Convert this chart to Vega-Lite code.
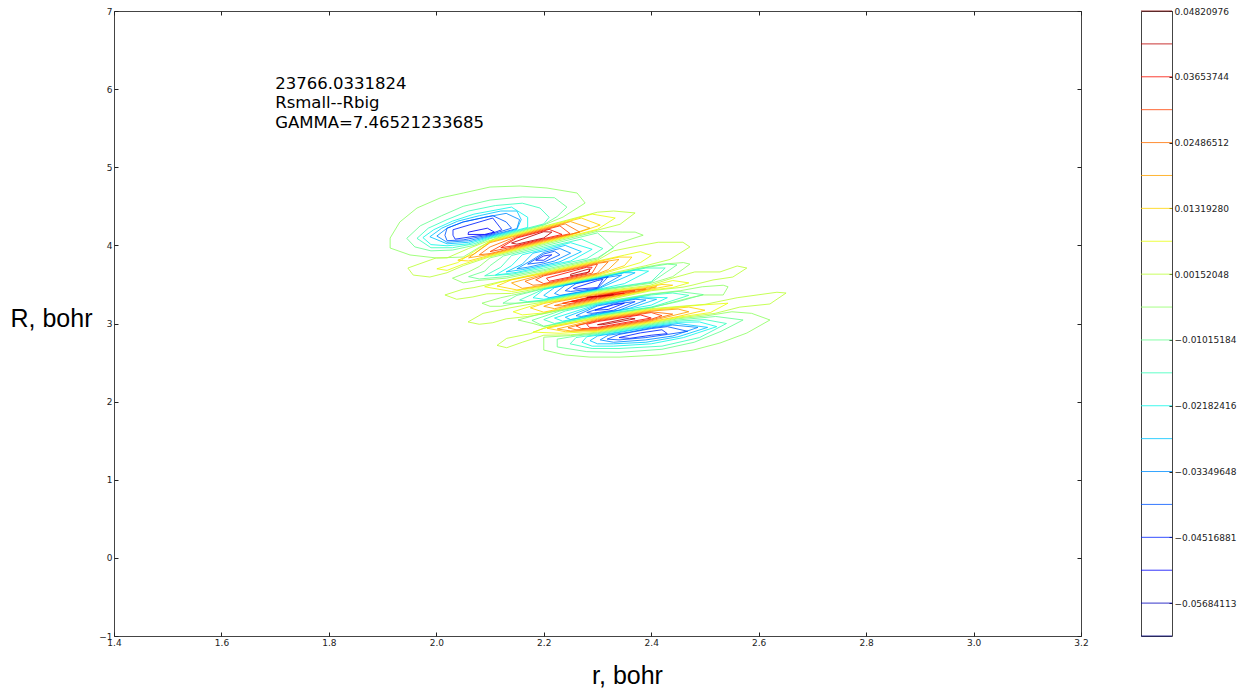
{"$schema":"https://vega.github.io/schema/vega-lite/v6.json","background":"white","padding":{"left":9,"top":6,"right":0,"bottom":0},"spacing":51,"config":{"view":{"stroke":"#444"},"axis":{"grid":false,"labelFont":"DejaVu Sans","labelFontSize":9,"labelColor":"#222","tickColor":"#222","domain":false,"labelFlush":false},"concat":{"spacing":51}},
"datasets":{"contours":[
{"c":"a10","l":10,"r":1.914,"R":4.094},{"c":"a10","l":10,"r":1.932,"R":4.299},{"c":"a10","l":10,"r":1.964,"R":4.478},{"c":"a10","l":10,"r":2.007,"R":4.606},{"c":"a10","l":10,"r":2.05,"R":4.67},{"c":"a10","l":10,"r":2.1,"R":4.747},{"c":"a10","l":10,"r":2.156,"R":4.76},{"c":"a10","l":10,"r":2.206,"R":4.734},{"c":"a10","l":10,"r":2.262,"R":4.67},{"c":"a10","l":10,"r":2.277,"R":4.542},{"c":"a10","l":10,"r":2.236,"R":4.363},{"c":"a10","l":10,"r":2.2,"R":4.26},{"c":"a10","l":10,"r":2.15,"R":4.165},{"c":"a10","l":10,"r":2.11,"R":4.09},{"c":"a10","l":10,"r":2.081,"R":3.98},{"c":"a10","l":10,"r":2.05,"R":3.851},{"c":"a10","l":10,"r":2.001,"R":3.838},{"c":"a10","l":10,"r":1.951,"R":3.877},{"c":"a10","l":10,"r":1.914,"R":3.966},{"c":"a10","l":10,"r":1.914,"R":4.094},
{"c":"a9","l":9,"r":1.945,"R":4.09},{"c":"a9","l":9,"r":1.97,"R":4.25},{"c":"a9","l":9,"r":2.01,"R":4.38},{"c":"a9","l":9,"r":2.05,"R":4.5},{"c":"a9","l":9,"r":2.1,"R":4.58},{"c":"a9","l":9,"r":2.16,"R":4.62},{"c":"a9","l":9,"r":2.22,"R":4.61},{"c":"a9","l":9,"r":2.243,"R":4.49},{"c":"a9","l":9,"r":2.225,"R":4.37},{"c":"a9","l":9,"r":2.2,"R":4.265},{"c":"a9","l":9,"r":2.15,"R":4.175},{"c":"a9","l":9,"r":2.1,"R":4.085},{"c":"a9","l":9,"r":2.07,"R":4.0},{"c":"a9","l":9,"r":2.03,"R":3.94},{"c":"a9","l":9,"r":1.99,"R":3.93},{"c":"a9","l":9,"r":1.96,"R":3.98},{"c":"a9","l":9,"r":1.945,"R":4.09},
{"c":"a8","l":8,"r":1.964,"R":4.09},{"c":"a8","l":8,"r":1.985,"R":4.22},{"c":"a8","l":8,"r":2.02,"R":4.33},{"c":"a8","l":8,"r":2.06,"R":4.44},{"c":"a8","l":8,"r":2.11,"R":4.51},{"c":"a8","l":8,"r":2.16,"R":4.54},{"c":"a8","l":8,"r":2.193,"R":4.478},{"c":"a8","l":8,"r":2.21,"R":4.36},{"c":"a8","l":8,"r":2.2,"R":4.275},{"c":"a8","l":8,"r":2.15,"R":4.185},{"c":"a8","l":8,"r":2.1,"R":4.095},{"c":"a8","l":8,"r":2.07,"R":4.02},{"c":"a8","l":8,"r":2.03,"R":3.97},{"c":"a8","l":8,"r":1.99,"R":3.97},{"c":"a8","l":8,"r":1.964,"R":4.09},
{"c":"a7","l":7,"r":1.975,"R":4.1},{"c":"a7","l":7,"r":1.995,"R":4.2},{"c":"a7","l":7,"r":2.03,"R":4.31},{"c":"a7","l":7,"r":2.07,"R":4.4},{"c":"a7","l":7,"r":2.14,"R":4.49},{"c":"a7","l":7,"r":2.17,"R":4.36},{"c":"a7","l":7,"r":2.17,"R":4.23},{"c":"a7","l":7,"r":2.1,"R":4.105},{"c":"a7","l":7,"r":2.06,"R":4.02},{"c":"a7","l":7,"r":2.02,"R":3.995},{"c":"a7","l":7,"r":1.99,"R":4.01},{"c":"a7","l":7,"r":1.975,"R":4.1},
{"c":"a6","l":6,"r":1.988,"R":4.11},{"c":"a6","l":6,"r":2.01,"R":4.22},{"c":"a6","l":6,"r":2.04,"R":4.31},{"c":"a6","l":6,"r":2.08,"R":4.38},{"c":"a6","l":6,"r":2.12,"R":4.44},{"c":"a6","l":6,"r":2.15,"R":4.44},{"c":"a6","l":6,"r":2.158,"R":4.33},{"c":"a6","l":6,"r":2.15,"R":4.205},{"c":"a6","l":6,"r":2.1,"R":4.115},{"c":"a6","l":6,"r":2.06,"R":4.04},{"c":"a6","l":6,"r":2.02,"R":4.02},{"c":"a6","l":6,"r":1.988,"R":4.11},
{"c":"a5","l":5,"r":2.001,"R":4.12},{"c":"a5","l":5,"r":2.02,"R":4.22},{"c":"a5","l":5,"r":2.05,"R":4.3},{"c":"a5","l":5,"r":2.09,"R":4.36},{"c":"a5","l":5,"r":2.13,"R":4.41},{"c":"a5","l":5,"r":2.155,"R":4.33},{"c":"a5","l":5,"r":2.15,"R":4.215},{"c":"a5","l":5,"r":2.1,"R":4.125},{"c":"a5","l":5,"r":2.06,"R":4.06},{"c":"a5","l":5,"r":2.02,"R":4.04},{"c":"a5","l":5,"r":2.001,"R":4.12},
{"c":"a4","l":4,"r":2.016,"R":4.13},{"c":"a4","l":4,"r":2.02,"R":4.22},{"c":"a4","l":4,"r":2.05,"R":4.3},{"c":"a4","l":4,"r":2.105,"R":4.38},{"c":"a4","l":4,"r":2.13,"R":4.3},{"c":"a4","l":4,"r":2.14,"R":4.22},{"c":"a4","l":4,"r":2.1,"R":4.135},{"c":"a4","l":4,"r":2.05,"R":4.07},{"c":"a4","l":4,"r":2.02,"R":4.06},{"c":"a4","l":4,"r":2.016,"R":4.13},
{"c":"a3","l":3,"r":2.031,"R":4.13},{"c":"a3","l":3,"r":2.031,"R":4.2},{"c":"a3","l":3,"r":2.105,"R":4.35},{"c":"a3","l":3,"r":2.122,"R":4.2},{"c":"a3","l":3,"r":2.1,"R":4.145},{"c":"a3","l":3,"r":2.035,"R":4.08},{"c":"a3","l":3,"r":2.031,"R":4.13},
{"c":"a2","l":2,"r":2.059,"R":4.14},{"c":"a2","l":2,"r":2.06,"R":4.17},{"c":"a2","l":2,"r":2.095,"R":4.22},{"c":"a2","l":2,"r":2.108,"R":4.17},{"c":"a2","l":2,"r":2.09,"R":4.14},{"c":"a2","l":2,"r":2.059,"R":4.14},
{"c":"b11","l":11,"r":1.947,"R":3.71},{"c":"b11","l":11,"r":2.0,"R":3.84},{"c":"b11","l":11,"r":2.02,"R":3.84},{"c":"b11","l":11,"r":2.06,"R":3.96},{"c":"b11","l":11,"r":2.1,"R":4.065},{"c":"b11","l":11,"r":2.2,"R":4.245},{"c":"b11","l":11,"r":2.3,"R":4.425},{"c":"b11","l":11,"r":2.33,"R":4.44},{"c":"b11","l":11,"r":2.37,"R":4.415},{"c":"b11","l":11,"r":2.342,"R":4.27},{"c":"b11","l":11,"r":2.3,"R":4.195},{"c":"b11","l":11,"r":2.2,"R":4.025},{"c":"b11","l":11,"r":2.1,"R":3.855},{"c":"b11","l":11,"r":2.05,"R":3.74},{"c":"b11","l":11,"r":2.02,"R":3.65},{"c":"b11","l":11,"r":1.988,"R":3.595},{"c":"b11","l":11,"r":1.957,"R":3.62},{"c":"b11","l":11,"r":1.947,"R":3.71},
{"c":"b12","l":12,"r":2.001,"R":3.7},{"c":"b12","l":12,"r":2.04,"R":3.78},{"c":"b12","l":12,"r":2.07,"R":3.92},{"c":"b12","l":12,"r":2.1,"R":4.055},{"c":"b12","l":12,"r":2.2,"R":4.235},{"c":"b12","l":12,"r":2.29,"R":4.4},{"c":"b12","l":12,"r":2.333,"R":4.35},{"c":"b12","l":12,"r":2.3,"R":4.205},{"c":"b12","l":12,"r":2.2,"R":4.035},{"c":"b12","l":12,"r":2.1,"R":3.865},{"c":"b12","l":12,"r":2.05,"R":3.76},{"c":"b12","l":12,"r":2.02,"R":3.68},{"c":"b12","l":12,"r":2.001,"R":3.7},
{"c":"b13","l":13,"r":2.04,"R":3.81},{"c":"b13","l":13,"r":2.07,"R":3.89},{"c":"b13","l":13,"r":2.1,"R":4.045},{"c":"b13","l":13,"r":2.2,"R":4.225},{"c":"b13","l":13,"r":2.27,"R":4.35},{"c":"b13","l":13,"r":2.305,"R":4.26},{"c":"b13","l":13,"r":2.25,"R":4.13},{"c":"b13","l":13,"r":2.2,"R":4.045},{"c":"b13","l":13,"r":2.1,"R":3.875},{"c":"b13","l":13,"r":2.06,"R":3.8},{"c":"b13","l":13,"r":2.04,"R":3.81},
{"c":"b14","l":14,"r":2.06,"R":3.84},{"c":"b14","l":14,"r":2.1,"R":4.035},{"c":"b14","l":14,"r":2.2,"R":4.215},{"c":"b14","l":14,"r":2.25,"R":4.305},{"c":"b14","l":14,"r":2.286,"R":4.22},{"c":"b14","l":14,"r":2.25,"R":4.14},{"c":"b14","l":14,"r":2.2,"R":4.055},{"c":"b14","l":14,"r":2.1,"R":3.885},{"c":"b14","l":14,"r":2.06,"R":3.84},
{"c":"b15","l":15,"r":2.08,"R":3.88},{"c":"b15","l":15,"r":2.1,"R":3.98},{"c":"b15","l":15,"r":2.15,"R":4.115},{"c":"b15","l":15,"r":2.2,"R":4.205},{"c":"b15","l":15,"r":2.24,"R":4.275},{"c":"b15","l":15,"r":2.267,"R":4.17},{"c":"b15","l":15,"r":2.2,"R":4.065},{"c":"b15","l":15,"r":2.1,"R":3.895},{"c":"b15","l":15,"r":2.08,"R":3.88},
{"c":"b16","l":16,"r":2.1,"R":3.92},{"c":"b16","l":16,"r":2.15,"R":4.105},{"c":"b16","l":16,"r":2.2,"R":4.195},{"c":"b16","l":16,"r":2.23,"R":4.25},{"c":"b16","l":16,"r":2.249,"R":4.15},{"c":"b16","l":16,"r":2.2,"R":4.075},{"c":"b16","l":16,"r":2.15,"R":3.99},{"c":"b16","l":16,"r":2.1,"R":3.92},
{"c":"b17","l":17,"r":2.12,"R":3.97},{"c":"b17","l":17,"r":2.15,"R":4.095},{"c":"b17","l":17,"r":2.2,"R":4.185},{"c":"b17","l":17,"r":2.21,"R":4.205},{"c":"b17","l":17,"r":2.234,"R":4.14},{"c":"b17","l":17,"r":2.2,"R":4.085},{"c":"b17","l":17,"r":2.15,"R":4.0},{"c":"b17","l":17,"r":2.12,"R":3.97},
{"c":"b18","l":18,"r":2.14,"R":4.03},{"c":"b18","l":18,"r":2.2,"R":4.175},{"c":"b18","l":18,"r":2.215,"R":4.17},{"c":"b18","l":18,"r":2.2,"R":4.095},{"c":"b18","l":18,"r":2.15,"R":4.015},{"c":"b18","l":18,"r":2.14,"R":4.03},
{"c":"c10","l":10,"r":2.03,"R":3.58},{"c":"c10","l":10,"r":2.06,"R":3.66},{"c":"c10","l":10,"r":2.08,"R":3.73},{"c":"c10","l":10,"r":2.1,"R":3.84},{"c":"c10","l":10,"r":2.2,"R":4.01},{"c":"c10","l":10,"r":2.3,"R":4.18},{"c":"c10","l":10,"r":2.347,"R":4.17},{"c":"c10","l":10,"r":2.37,"R":4.17},{"c":"c10","l":10,"r":2.385,"R":4.13},{"c":"c10","l":10,"r":2.34,"R":4.03},{"c":"c10","l":10,"r":2.33,"R":3.98},{"c":"c10","l":10,"r":2.3,"R":3.825},{"c":"c10","l":10,"r":2.2,"R":3.675},{"c":"c10","l":10,"r":2.13,"R":3.58},{"c":"c10","l":10,"r":2.076,"R":3.55},{"c":"c10","l":10,"r":2.05,"R":3.52},{"c":"c10","l":10,"r":2.03,"R":3.58},
{"c":"c9","l":9,"r":2.06,"R":3.6},{"c":"c9","l":9,"r":2.09,"R":3.67},{"c":"c9","l":9,"r":2.1,"R":3.74},{"c":"c9","l":9,"r":2.125,"R":3.865},{"c":"c9","l":9,"r":2.2,"R":3.99},{"c":"c9","l":9,"r":2.3,"R":4.16},{"c":"c9","l":9,"r":2.31,"R":4.1},{"c":"c9","l":9,"r":2.33,"R":3.97},{"c":"c9","l":9,"r":2.3,"R":3.84},{"c":"c9","l":9,"r":2.2,"R":3.69},{"c":"c9","l":9,"r":2.13,"R":3.6},{"c":"c9","l":9,"r":2.08,"R":3.57},{"c":"c9","l":9,"r":2.06,"R":3.6},
{"c":"c8","l":8,"r":2.09,"R":3.61},{"c":"c8","l":8,"r":2.12,"R":3.72},{"c":"c8","l":8,"r":2.14,"R":3.87},{"c":"c8","l":8,"r":2.2,"R":3.97},{"c":"c8","l":8,"r":2.27,"R":4.08},{"c":"c8","l":8,"r":2.31,"R":3.96},{"c":"c8","l":8,"r":2.28,"R":3.83},{"c":"c8","l":8,"r":2.2,"R":3.71},{"c":"c8","l":8,"r":2.14,"R":3.63},{"c":"c8","l":8,"r":2.09,"R":3.61},
{"c":"c7","l":7,"r":2.11,"R":3.62},{"c":"c7","l":7,"r":2.14,"R":3.74},{"c":"c7","l":7,"r":2.16,"R":3.88},{"c":"c7","l":7,"r":2.2,"R":3.95},{"c":"c7","l":7,"r":2.25,"R":4.035},{"c":"c7","l":7,"r":2.29,"R":3.95},{"c":"c7","l":7,"r":2.25,"R":3.8},{"c":"c7","l":7,"r":2.2,"R":3.73},{"c":"c7","l":7,"r":2.15,"R":3.655},{"c":"c7","l":7,"r":2.11,"R":3.62},
{"c":"c6","l":6,"r":2.13,"R":3.66},{"c":"c6","l":6,"r":2.16,"R":3.76},{"c":"c6","l":6,"r":2.18,"R":3.9},{"c":"c6","l":6,"r":2.2,"R":3.93},{"c":"c6","l":6,"r":2.24,"R":4.0},{"c":"c6","l":6,"r":2.27,"R":3.92},{"c":"c6","l":6,"r":2.23,"R":3.79},{"c":"c6","l":6,"r":2.2,"R":3.745},{"c":"c6","l":6,"r":2.16,"R":3.69},{"c":"c6","l":6,"r":2.13,"R":3.66},
{"c":"c5","l":5,"r":2.15,"R":3.7},{"c":"c5","l":5,"r":2.18,"R":3.82},{"c":"c5","l":5,"r":2.2,"R":3.91},{"c":"c5","l":5,"r":2.23,"R":3.96},{"c":"c5","l":5,"r":2.25,"R":3.9},{"c":"c5","l":5,"r":2.22,"R":3.8},{"c":"c5","l":5,"r":2.2,"R":3.765},{"c":"c5","l":5,"r":2.17,"R":3.72},{"c":"c5","l":5,"r":2.15,"R":3.7},
{"c":"c4","l":4,"r":2.17,"R":3.76},{"c":"c4","l":4,"r":2.2,"R":3.89},{"c":"c4","l":4,"r":2.22,"R":3.925},{"c":"c4","l":4,"r":2.23,"R":3.88},{"c":"c4","l":4,"r":2.2,"R":3.785},{"c":"c4","l":4,"r":2.17,"R":3.76},
{"c":"c3","l":3,"r":2.185,"R":3.81},{"c":"c3","l":3,"r":2.2,"R":3.865},{"c":"c3","l":3,"r":2.215,"R":3.88},{"c":"c3","l":3,"r":2.2,"R":3.81},{"c":"c3","l":3,"r":2.185,"R":3.81},
{"c":"d11","l":11,"r":2.016,"R":3.365},{"c":"d11","l":11,"r":2.05,"R":3.44},{"c":"d11","l":11,"r":2.07,"R":3.46},{"c":"d11","l":11,"r":2.1,"R":3.505},{"c":"d11","l":11,"r":2.2,"R":3.66},{"c":"d11","l":11,"r":2.3,"R":3.81},{"c":"d11","l":11,"r":2.33,"R":3.93},{"c":"d11","l":11,"r":2.366,"R":3.98},{"c":"d11","l":11,"r":2.413,"R":4.04},{"c":"d11","l":11,"r":2.459,"R":4.04},{"c":"d11","l":11,"r":2.472,"R":3.98},{"c":"d11","l":11,"r":2.435,"R":3.82},{"c":"d11","l":11,"r":2.39,"R":3.74},{"c":"d11","l":11,"r":2.3,"R":3.605},{"c":"d11","l":11,"r":2.2,"R":3.46},{"c":"d11","l":11,"r":2.14,"R":3.385},{"c":"d11","l":11,"r":2.094,"R":3.38},{"c":"d11","l":11,"r":2.068,"R":3.34},{"c":"d11","l":11,"r":2.038,"R":3.31},{"c":"d11","l":11,"r":2.016,"R":3.365},
{"c":"d12","l":12,"r":2.09,"R":3.47},{"c":"d12","l":12,"r":2.12,"R":3.53},{"c":"d12","l":12,"r":2.2,"R":3.65},{"c":"d12","l":12,"r":2.3,"R":3.8},{"c":"d12","l":12,"r":2.35,"R":3.875},{"c":"d12","l":12,"r":2.38,"R":3.92},{"c":"d12","l":12,"r":2.4,"R":3.87},{"c":"d12","l":12,"r":2.38,"R":3.78},{"c":"d12","l":12,"r":2.3,"R":3.615},{"c":"d12","l":12,"r":2.2,"R":3.47},{"c":"d12","l":12,"r":2.14,"R":3.41},{"c":"d12","l":12,"r":2.09,"R":3.47},
{"c":"d13","l":13,"r":2.113,"R":3.48},{"c":"d13","l":13,"r":2.14,"R":3.56},{"c":"d13","l":13,"r":2.2,"R":3.64},{"c":"d13","l":13,"r":2.3,"R":3.79},{"c":"d13","l":13,"r":2.34,"R":3.85},{"c":"d13","l":13,"r":2.364,"R":3.85},{"c":"d13","l":13,"r":2.35,"R":3.74},{"c":"d13","l":13,"r":2.3,"R":3.625},{"c":"d13","l":13,"r":2.2,"R":3.48},{"c":"d13","l":13,"r":2.15,"R":3.43},{"c":"d13","l":13,"r":2.113,"R":3.48},
{"c":"d14","l":14,"r":2.14,"R":3.52},{"c":"d14","l":14,"r":2.2,"R":3.63},{"c":"d14","l":14,"r":2.3,"R":3.78},{"c":"d14","l":14,"r":2.34,"R":3.82},{"c":"d14","l":14,"r":2.32,"R":3.69},{"c":"d14","l":14,"r":2.3,"R":3.635},{"c":"d14","l":14,"r":2.2,"R":3.49},{"c":"d14","l":14,"r":2.16,"R":3.45},{"c":"d14","l":14,"r":2.14,"R":3.52},
{"c":"d15","l":15,"r":2.165,"R":3.54},{"c":"d15","l":15,"r":2.2,"R":3.62},{"c":"d15","l":15,"r":2.3,"R":3.77},{"c":"d15","l":15,"r":2.32,"R":3.79},{"c":"d15","l":15,"r":2.3,"R":3.645},{"c":"d15","l":15,"r":2.2,"R":3.5},{"c":"d15","l":15,"r":2.18,"R":3.49},{"c":"d15","l":15,"r":2.165,"R":3.54},
{"c":"d16","l":16,"r":2.185,"R":3.56},{"c":"d16","l":16,"r":2.2,"R":3.61},{"c":"d16","l":16,"r":2.28,"R":3.73},{"c":"d16","l":16,"r":2.3,"R":3.76},{"c":"d16","l":16,"r":2.29,"R":3.645},{"c":"d16","l":16,"r":2.2,"R":3.51},{"c":"d16","l":16,"r":2.185,"R":3.56},
{"c":"d17","l":17,"r":2.205,"R":3.58},{"c":"d17","l":17,"r":2.28,"R":3.72},{"c":"d17","l":17,"r":2.29,"R":3.72},{"c":"d17","l":17,"r":2.28,"R":3.64},{"c":"d17","l":17,"r":2.21,"R":3.54},{"c":"d17","l":17,"r":2.205,"R":3.58},
{"c":"d18","l":18,"r":2.25,"R":3.63},{"c":"d18","l":18,"r":2.285,"R":3.7},{"c":"d18","l":18,"r":2.285,"R":3.66},{"c":"d18","l":18,"r":2.25,"R":3.61},{"c":"d18","l":18,"r":2.25,"R":3.63},
{"c":"e10","l":10,"r":2.085,"R":3.26},{"c":"e10","l":10,"r":2.12,"R":3.33},{"c":"e10","l":10,"r":2.14,"R":3.36},{"c":"e10","l":10,"r":2.2,"R":3.45},{"c":"e10","l":10,"r":2.3,"R":3.595},{"c":"e10","l":10,"r":2.38,"R":3.71},{"c":"e10","l":10,"r":2.42,"R":3.76},{"c":"e10","l":10,"r":2.46,"R":3.78},{"c":"e10","l":10,"r":2.472,"R":3.76},{"c":"e10","l":10,"r":2.44,"R":3.6},{"c":"e10","l":10,"r":2.4,"R":3.515},{"c":"e10","l":10,"r":2.3,"R":3.415},{"c":"e10","l":10,"r":2.2,"R":3.285},{"c":"e10","l":10,"r":2.15,"R":3.26},{"c":"e10","l":10,"r":2.12,"R":3.22},{"c":"e10","l":10,"r":2.1,"R":3.22},{"c":"e10","l":10,"r":2.085,"R":3.26},
{"c":"e9","l":9,"r":2.124,"R":3.26},{"c":"e9","l":9,"r":2.15,"R":3.36},{"c":"e9","l":9,"r":2.2,"R":3.445},{"c":"e9","l":9,"r":2.3,"R":3.59},{"c":"e9","l":9,"r":2.38,"R":3.705},{"c":"e9","l":9,"r":2.43,"R":3.76},{"c":"e9","l":9,"r":2.448,"R":3.75},{"c":"e9","l":9,"r":2.4,"R":3.525},{"c":"e9","l":9,"r":2.3,"R":3.425},{"c":"e9","l":9,"r":2.2,"R":3.295},{"c":"e9","l":9,"r":2.15,"R":3.26},{"c":"e9","l":9,"r":2.124,"R":3.26},
{"c":"e8","l":8,"r":2.155,"R":3.3},{"c":"e8","l":8,"r":2.2,"R":3.44},{"c":"e8","l":8,"r":2.3,"R":3.585},{"c":"e8","l":8,"r":2.39,"R":3.71},{"c":"e8","l":8,"r":2.426,"R":3.71},{"c":"e8","l":8,"r":2.4,"R":3.535},{"c":"e8","l":8,"r":2.3,"R":3.43},{"c":"e8","l":8,"r":2.2,"R":3.3},{"c":"e8","l":8,"r":2.17,"R":3.28},{"c":"e8","l":8,"r":2.155,"R":3.3},
{"c":"e7","l":7,"r":2.18,"R":3.33},{"c":"e7","l":7,"r":2.2,"R":3.435},{"c":"e7","l":7,"r":2.3,"R":3.58},{"c":"e7","l":7,"r":2.37,"R":3.685},{"c":"e7","l":7,"r":2.395,"R":3.67},{"c":"e7","l":7,"r":2.35,"R":3.51},{"c":"e7","l":7,"r":2.3,"R":3.435},{"c":"e7","l":7,"r":2.2,"R":3.31},{"c":"e7","l":7,"r":2.18,"R":3.33},
{"c":"e6","l":6,"r":2.2,"R":3.36},{"c":"e6","l":6,"r":2.22,"R":3.46},{"c":"e6","l":6,"r":2.3,"R":3.575},{"c":"e6","l":6,"r":2.35,"R":3.65},{"c":"e6","l":6,"r":2.37,"R":3.65},{"c":"e6","l":6,"r":2.3,"R":3.44},{"c":"e6","l":6,"r":2.21,"R":3.33},{"c":"e6","l":6,"r":2.2,"R":3.36},
{"c":"e5","l":5,"r":2.22,"R":3.385},{"c":"e5","l":5,"r":2.24,"R":3.49},{"c":"e5","l":5,"r":2.3,"R":3.57},{"c":"e5","l":5,"r":2.345,"R":3.62},{"c":"e5","l":5,"r":2.3,"R":3.445},{"c":"e5","l":5,"r":2.23,"R":3.36},{"c":"e5","l":5,"r":2.22,"R":3.385},
{"c":"e4","l":4,"r":2.24,"R":3.42},{"c":"e4","l":4,"r":2.26,"R":3.51},{"c":"e4","l":4,"r":2.3,"R":3.565},{"c":"e4","l":4,"r":2.32,"R":3.6},{"c":"e4","l":4,"r":2.3,"R":3.45},{"c":"e4","l":4,"r":2.25,"R":3.41},{"c":"e4","l":4,"r":2.24,"R":3.42},
{"c":"e3","l":3,"r":2.255,"R":3.45},{"c":"e3","l":3,"r":2.3,"R":3.55},{"c":"e3","l":3,"r":2.31,"R":3.565},{"c":"e3","l":3,"r":2.3,"R":3.46},{"c":"e3","l":3,"r":2.26,"R":3.44},{"c":"e3","l":3,"r":2.255,"R":3.45},
{"c":"f11","l":11,"r":2.059,"R":3.02},{"c":"f11","l":11,"r":2.087,"R":3.13},{"c":"f11","l":11,"r":2.137,"R":3.2},{"c":"f11","l":11,"r":2.169,"R":3.24},{"c":"f11","l":11,"r":2.2,"R":3.275},{"c":"f11","l":11,"r":2.3,"R":3.405},{"c":"f11","l":11,"r":2.398,"R":3.49},{"c":"f11","l":11,"r":2.439,"R":3.58},{"c":"f11","l":11,"r":2.481,"R":3.66},{"c":"f11","l":11,"r":2.528,"R":3.66},{"c":"f11","l":11,"r":2.56,"R":3.736},{"c":"f11","l":11,"r":2.578,"R":3.71},{"c":"f11","l":11,"r":2.552,"R":3.595},{"c":"f11","l":11,"r":2.515,"R":3.557},{"c":"f11","l":11,"r":2.476,"R":3.49},{"c":"f11","l":11,"r":2.459,"R":3.465},{"c":"f11","l":11,"r":2.4,"R":3.42},{"c":"f11","l":11,"r":2.3,"R":3.275},{"c":"f11","l":11,"r":2.2,"R":3.125},{"c":"f11","l":11,"r":2.17,"R":3.09},{"c":"f11","l":11,"r":2.13,"R":3.06},{"c":"f11","l":11,"r":2.105,"R":3.01},{"c":"f11","l":11,"r":2.08,"R":2.99},{"c":"f11","l":11,"r":2.059,"R":3.02},
{"c":"f12","l":12,"r":2.143,"R":3.15},{"c":"f12","l":12,"r":2.175,"R":3.22},{"c":"f12","l":12,"r":2.2,"R":3.265},{"c":"f12","l":12,"r":2.3,"R":3.395},{"c":"f12","l":12,"r":2.4,"R":3.48},{"c":"f12","l":12,"r":2.44,"R":3.55},{"c":"f12","l":12,"r":2.47,"R":3.52},{"c":"f12","l":12,"r":2.44,"R":3.46},{"c":"f12","l":12,"r":2.4,"R":3.43},{"c":"f12","l":12,"r":2.3,"R":3.285},{"c":"f12","l":12,"r":2.2,"R":3.135},{"c":"f12","l":12,"r":2.16,"R":3.11},{"c":"f12","l":12,"r":2.143,"R":3.15},
{"c":"f13","l":13,"r":2.175,"R":3.2},{"c":"f13","l":13,"r":2.2,"R":3.255},{"c":"f13","l":13,"r":2.3,"R":3.385},{"c":"f13","l":13,"r":2.39,"R":3.46},{"c":"f13","l":13,"r":2.42,"R":3.5},{"c":"f13","l":13,"r":2.44,"R":3.49},{"c":"f13","l":13,"r":2.4,"R":3.44},{"c":"f13","l":13,"r":2.3,"R":3.295},{"c":"f13","l":13,"r":2.2,"R":3.145},{"c":"f13","l":13,"r":2.175,"R":3.2},
{"c":"f14","l":14,"r":2.2,"R":3.22},{"c":"f14","l":14,"r":2.22,"R":3.27},{"c":"f14","l":14,"r":2.3,"R":3.375},{"c":"f14","l":14,"r":2.38,"R":3.44},{"c":"f14","l":14,"r":2.41,"R":3.47},{"c":"f14","l":14,"r":2.38,"R":3.415},{"c":"f14","l":14,"r":2.3,"R":3.305},{"c":"f14","l":14,"r":2.22,"R":3.19},{"c":"f14","l":14,"r":2.2,"R":3.22},
{"c":"f15","l":15,"r":2.22,"R":3.23},{"c":"f15","l":15,"r":2.3,"R":3.365},{"c":"f15","l":15,"r":2.37,"R":3.43},{"c":"f15","l":15,"r":2.39,"R":3.44},{"c":"f15","l":15,"r":2.3,"R":3.315},{"c":"f15","l":15,"r":2.235,"R":3.225},{"c":"f15","l":15,"r":2.22,"R":3.23},
{"c":"f16","l":16,"r":2.235,"R":3.26},{"c":"f16","l":16,"r":2.3,"R":3.355},{"c":"f16","l":16,"r":2.35,"R":3.41},{"c":"f16","l":16,"r":2.37,"R":3.42},{"c":"f16","l":16,"r":2.3,"R":3.325},{"c":"f16","l":16,"r":2.245,"R":3.25},{"c":"f16","l":16,"r":2.235,"R":3.26},
{"c":"f17","l":17,"r":2.25,"R":3.28},{"c":"f17","l":17,"r":2.3,"R":3.345},{"c":"f17","l":17,"r":2.33,"R":3.385},{"c":"f17","l":17,"r":2.35,"R":3.39},{"c":"f17","l":17,"r":2.3,"R":3.335},{"c":"f17","l":17,"r":2.26,"R":3.28},{"c":"f17","l":17,"r":2.25,"R":3.28},
{"c":"f18","l":18,"r":2.28,"R":3.335},{"c":"f18","l":18,"r":2.31,"R":3.355},{"c":"f18","l":18,"r":2.33,"R":3.37},{"c":"f18","l":18,"r":2.3,"R":3.345},{"c":"f18","l":18,"r":2.28,"R":3.335},
{"c":"g10","l":10,"r":2.152,"R":3.045},{"c":"g10","l":10,"r":2.187,"R":3.11},{"c":"g10","l":10,"r":2.23,"R":3.17},{"c":"g10","l":10,"r":2.3,"R":3.265},{"c":"g10","l":10,"r":2.4,"R":3.38},{"c":"g10","l":10,"r":2.454,"R":3.42},{"c":"g10","l":10,"r":2.495,"R":3.47},{"c":"g10","l":10,"r":2.534,"R":3.49},{"c":"g10","l":10,"r":2.543,"R":3.47},{"c":"g10","l":10,"r":2.534,"R":3.365},{"c":"g10","l":10,"r":2.497,"R":3.365},{"c":"g10","l":10,"r":2.472,"R":3.33},{"c":"g10","l":10,"r":2.4,"R":3.2},{"c":"g10","l":10,"r":2.3,"R":3.095},{"c":"g10","l":10,"r":2.2,"R":2.96},{"c":"g10","l":10,"r":2.18,"R":3.0},{"c":"g10","l":10,"r":2.152,"R":3.045},
{"c":"g9","l":9,"r":2.178,"R":3.04},{"c":"g9","l":9,"r":2.23,"R":3.16},{"c":"g9","l":9,"r":2.3,"R":3.26},{"c":"g9","l":9,"r":2.4,"R":3.375},{"c":"g9","l":9,"r":2.45,"R":3.41},{"c":"g9","l":9,"r":2.497,"R":3.37},{"c":"g9","l":9,"r":2.45,"R":3.28},{"c":"g9","l":9,"r":2.4,"R":3.205},{"c":"g9","l":9,"r":2.3,"R":3.1},{"c":"g9","l":9,"r":2.2,"R":2.965},{"c":"g9","l":9,"r":2.178,"R":3.04},
{"c":"g8","l":8,"r":2.2,"R":3.05},{"c":"g8","l":8,"r":2.24,"R":3.16},{"c":"g8","l":8,"r":2.3,"R":3.25},{"c":"g8","l":8,"r":2.4,"R":3.365},{"c":"g8","l":8,"r":2.44,"R":3.39},{"c":"g8","l":8,"r":2.47,"R":3.36},{"c":"g8","l":8,"r":2.42,"R":3.25},{"c":"g8","l":8,"r":2.4,"R":3.21},{"c":"g8","l":8,"r":2.3,"R":3.11},{"c":"g8","l":8,"r":2.22,"R":3.0},{"c":"g8","l":8,"r":2.2,"R":3.05},
{"c":"g7","l":7,"r":2.22,"R":3.07},{"c":"g7","l":7,"r":2.3,"R":3.245},{"c":"g7","l":7,"r":2.38,"R":3.34},{"c":"g7","l":7,"r":2.43,"R":3.33},{"c":"g7","l":7,"r":2.4,"R":3.235},{"c":"g7","l":7,"r":2.3,"R":3.115},{"c":"g7","l":7,"r":2.235,"R":3.03},{"c":"g7","l":7,"r":2.22,"R":3.07},
{"c":"g6","l":6,"r":2.24,"R":3.08},{"c":"g6","l":6,"r":2.3,"R":3.235},{"c":"g6","l":6,"r":2.38,"R":3.33},{"c":"g6","l":6,"r":2.41,"R":3.31},{"c":"g6","l":6,"r":2.36,"R":3.195},{"c":"g6","l":6,"r":2.3,"R":3.12},{"c":"g6","l":6,"r":2.25,"R":3.05},{"c":"g6","l":6,"r":2.24,"R":3.08},
{"c":"g5","l":5,"r":2.26,"R":3.1},{"c":"g5","l":5,"r":2.3,"R":3.225},{"c":"g5","l":5,"r":2.37,"R":3.31},{"c":"g5","l":5,"r":2.39,"R":3.3},{"c":"g5","l":5,"r":2.34,"R":3.17},{"c":"g5","l":5,"r":2.3,"R":3.13},{"c":"g5","l":5,"r":2.27,"R":3.09},{"c":"g5","l":5,"r":2.26,"R":3.1},
{"c":"g4","l":4,"r":2.28,"R":3.14},{"c":"g4","l":4,"r":2.33,"R":3.25},{"c":"g4","l":4,"r":2.37,"R":3.28},{"c":"g4","l":4,"r":2.33,"R":3.17},{"c":"g4","l":4,"r":2.29,"R":3.13},{"c":"g4","l":4,"r":2.28,"R":3.14},
{"c":"g3","l":3,"r":2.295,"R":3.17},{"c":"g3","l":3,"r":2.33,"R":3.24},{"c":"g3","l":3,"r":2.35,"R":3.26},{"c":"g3","l":3,"r":2.32,"R":3.18},{"c":"g3","l":3,"r":2.295,"R":3.17},
{"c":"h11","l":11,"r":2.113,"R":2.72},{"c":"h11","l":11,"r":2.131,"R":2.81},{"c":"h11","l":11,"r":2.175,"R":2.87},{"c":"h11","l":11,"r":2.2,"R":2.94},{"c":"h11","l":11,"r":2.3,"R":3.085},{"c":"h11","l":11,"r":2.4,"R":3.19},{"c":"h11","l":11,"r":2.5,"R":3.245},{"c":"h11","l":11,"r":2.56,"R":3.33},{"c":"h11","l":11,"r":2.634,"R":3.4},{"c":"h11","l":11,"r":2.651,"R":3.39},{"c":"h11","l":11,"r":2.621,"R":3.25},{"c":"h11","l":11,"r":2.565,"R":3.21},{"c":"h11","l":11,"r":2.519,"R":3.13},{"c":"h11","l":11,"r":2.45,"R":3.07},{"c":"h11","l":11,"r":2.4,"R":3.005},{"c":"h11","l":11,"r":2.3,"R":2.89},{"c":"h11","l":11,"r":2.25,"R":2.855},{"c":"h11","l":11,"r":2.2,"R":2.85},{"c":"h11","l":11,"r":2.187,"R":2.82},{"c":"h11","l":11,"r":2.16,"R":2.76},{"c":"h11","l":11,"r":2.131,"R":2.69},{"c":"h11","l":11,"r":2.113,"R":2.72},
{"c":"h12","l":12,"r":2.18,"R":2.89},{"c":"h12","l":12,"r":2.21,"R":2.96},{"c":"h12","l":12,"r":2.3,"R":3.075},{"c":"h12","l":12,"r":2.4,"R":3.18},{"c":"h12","l":12,"r":2.49,"R":3.235},{"c":"h12","l":12,"r":2.543,"R":3.26},{"c":"h12","l":12,"r":2.51,"R":3.14},{"c":"h12","l":12,"r":2.45,"R":3.08},{"c":"h12","l":12,"r":2.4,"R":3.015},{"c":"h12","l":12,"r":2.3,"R":2.9},{"c":"h12","l":12,"r":2.23,"R":2.875},{"c":"h12","l":12,"r":2.18,"R":2.89},
{"c":"h13","l":13,"r":2.206,"R":2.94},{"c":"h13","l":13,"r":2.3,"R":3.065},{"c":"h13","l":13,"r":2.4,"R":3.17},{"c":"h13","l":13,"r":2.47,"R":3.21},{"c":"h13","l":13,"r":2.5,"R":3.17},{"c":"h13","l":13,"r":2.45,"R":3.09},{"c":"h13","l":13,"r":2.4,"R":3.025},{"c":"h13","l":13,"r":2.3,"R":2.91},{"c":"h13","l":13,"r":2.24,"R":2.895},{"c":"h13","l":13,"r":2.206,"R":2.94},
{"c":"h14","l":14,"r":2.225,"R":2.93},{"c":"h14","l":14,"r":2.3,"R":3.055},{"c":"h14","l":14,"r":2.4,"R":3.16},{"c":"h14","l":14,"r":2.45,"R":3.185},{"c":"h14","l":14,"r":2.47,"R":3.15},{"c":"h14","l":14,"r":2.4,"R":3.035},{"c":"h14","l":14,"r":2.3,"R":2.92},{"c":"h14","l":14,"r":2.25,"R":2.905},{"c":"h14","l":14,"r":2.225,"R":2.93},
{"c":"h15","l":15,"r":2.245,"R":2.945},{"c":"h15","l":15,"r":2.3,"R":3.045},{"c":"h15","l":15,"r":2.4,"R":3.15},{"c":"h15","l":15,"r":2.44,"R":3.12},{"c":"h15","l":15,"r":2.4,"R":3.045},{"c":"h15","l":15,"r":2.3,"R":2.93},{"c":"h15","l":15,"r":2.26,"R":2.92},{"c":"h15","l":15,"r":2.245,"R":2.945},
{"c":"h16","l":16,"r":2.26,"R":2.97},{"c":"h16","l":16,"r":2.3,"R":3.035},{"c":"h16","l":16,"r":2.4,"R":3.14},{"c":"h16","l":16,"r":2.42,"R":3.1},{"c":"h16","l":16,"r":2.4,"R":3.055},{"c":"h16","l":16,"r":2.3,"R":2.94},{"c":"h16","l":16,"r":2.27,"R":2.935},{"c":"h16","l":16,"r":2.26,"R":2.97},
{"c":"h17","l":17,"r":2.28,"R":2.99},{"c":"h17","l":17,"r":2.3,"R":3.025},{"c":"h17","l":17,"r":2.38,"R":3.11},{"c":"h17","l":17,"r":2.4,"R":3.07},{"c":"h17","l":17,"r":2.3,"R":2.95},{"c":"h17","l":17,"r":2.285,"R":2.95},{"c":"h17","l":17,"r":2.28,"R":2.99},
{"c":"h18","l":18,"r":2.3,"R":2.985},{"c":"h18","l":18,"r":2.36,"R":3.07},{"c":"h18","l":18,"r":2.37,"R":3.06},{"c":"h18","l":18,"r":2.31,"R":2.985},{"c":"h18","l":18,"r":2.3,"R":2.985},
{"c":"i10","l":10,"r":2.2,"R":2.66},{"c":"i10","l":10,"r":2.2,"R":2.825},{"c":"i10","l":10,"r":2.25,"R":2.845},{"c":"i10","l":10,"r":2.3,"R":2.88},{"c":"i10","l":10,"r":2.4,"R":2.995},{"c":"i10","l":10,"r":2.45,"R":3.06},{"c":"i10","l":10,"r":2.5,"R":3.095},{"c":"i10","l":10,"r":2.55,"R":3.15},{"c":"i10","l":10,"r":2.587,"R":3.13},{"c":"i10","l":10,"r":2.621,"R":3.045},{"c":"i10","l":10,"r":2.578,"R":2.878},{"c":"i10","l":10,"r":2.528,"R":2.75},{"c":"i10","l":10,"r":2.478,"R":2.66},{"c":"i10","l":10,"r":2.416,"R":2.597},{"c":"i10","l":10,"r":2.342,"R":2.57},{"c":"i10","l":10,"r":2.286,"R":2.57},{"c":"i10","l":10,"r":2.24,"R":2.597},{"c":"i10","l":10,"r":2.2,"R":2.66},
{"c":"i9","l":9,"r":2.225,"R":2.7},{"c":"i9","l":9,"r":2.225,"R":2.8},{"c":"i9","l":9,"r":2.26,"R":2.84},{"c":"i9","l":9,"r":2.3,"R":2.87},{"c":"i9","l":9,"r":2.4,"R":2.985},{"c":"i9","l":9,"r":2.45,"R":3.045},{"c":"i9","l":9,"r":2.52,"R":3.09},{"c":"i9","l":9,"r":2.571,"R":3.045},{"c":"i9","l":9,"r":2.53,"R":2.9},{"c":"i9","l":9,"r":2.48,"R":2.76},{"c":"i9","l":9,"r":2.42,"R":2.67},{"c":"i9","l":9,"r":2.34,"R":2.63},{"c":"i9","l":9,"r":2.28,"R":2.64},{"c":"i9","l":9,"r":2.225,"R":2.7},
{"c":"i8","l":8,"r":2.249,"R":2.74},{"c":"i8","l":8,"r":2.26,"R":2.82},{"c":"i8","l":8,"r":2.3,"R":2.86},{"c":"i8","l":8,"r":2.4,"R":2.975},{"c":"i8","l":8,"r":2.45,"R":3.03},{"c":"i8","l":8,"r":2.5,"R":3.05},{"c":"i8","l":8,"r":2.54,"R":3.0},{"c":"i8","l":8,"r":2.49,"R":2.82},{"c":"i8","l":8,"r":2.42,"R":2.71},{"c":"i8","l":8,"r":2.34,"R":2.68},{"c":"i8","l":8,"r":2.29,"R":2.68},{"c":"i8","l":8,"r":2.249,"R":2.74},
{"c":"i7","l":7,"r":2.271,"R":2.76},{"c":"i7","l":7,"r":2.28,"R":2.83},{"c":"i7","l":7,"r":2.32,"R":2.87},{"c":"i7","l":7,"r":2.4,"R":2.965},{"c":"i7","l":7,"r":2.45,"R":3.015},{"c":"i7","l":7,"r":2.49,"R":3.02},{"c":"i7","l":7,"r":2.522,"R":2.96},{"c":"i7","l":7,"r":2.46,"R":2.82},{"c":"i7","l":7,"r":2.4,"R":2.74},{"c":"i7","l":7,"r":2.33,"R":2.71},{"c":"i7","l":7,"r":2.29,"R":2.71},{"c":"i7","l":7,"r":2.271,"R":2.76},
{"c":"i6","l":6,"r":2.286,"R":2.78},{"c":"i6","l":6,"r":2.3,"R":2.84},{"c":"i6","l":6,"r":2.34,"R":2.885},{"c":"i6","l":6,"r":2.4,"R":2.955},{"c":"i6","l":6,"r":2.45,"R":3.0},{"c":"i6","l":6,"r":2.505,"R":2.95},{"c":"i6","l":6,"r":2.45,"R":2.83},{"c":"i6","l":6,"r":2.39,"R":2.76},{"c":"i6","l":6,"r":2.33,"R":2.74},{"c":"i6","l":6,"r":2.3,"R":2.74},{"c":"i6","l":6,"r":2.286,"R":2.78},
{"c":"i5","l":5,"r":2.305,"R":2.79},{"c":"i5","l":5,"r":2.32,"R":2.85},{"c":"i5","l":5,"r":2.36,"R":2.89},{"c":"i5","l":5,"r":2.4,"R":2.945},{"c":"i5","l":5,"r":2.44,"R":2.98},{"c":"i5","l":5,"r":2.487,"R":2.95},{"c":"i5","l":5,"r":2.44,"R":2.84},{"c":"i5","l":5,"r":2.39,"R":2.79},{"c":"i5","l":5,"r":2.33,"R":2.76},{"c":"i5","l":5,"r":2.305,"R":2.79},
{"c":"i4","l":4,"r":2.318,"R":2.8},{"c":"i4","l":4,"r":2.34,"R":2.86},{"c":"i4","l":4,"r":2.4,"R":2.935},{"c":"i4","l":4,"r":2.43,"R":2.96},{"c":"i4","l":4,"r":2.468,"R":2.9},{"c":"i4","l":4,"r":2.43,"R":2.86},{"c":"i4","l":4,"r":2.39,"R":2.82},{"c":"i4","l":4,"r":2.34,"R":2.79},{"c":"i4","l":4,"r":2.318,"R":2.8},
{"c":"i3","l":3,"r":2.34,"R":2.82},{"c":"i3","l":3,"r":2.38,"R":2.88},{"c":"i3","l":3,"r":2.42,"R":2.92},{"c":"i3","l":3,"r":2.43,"R":2.87},{"c":"i3","l":3,"r":2.4,"R":2.85},{"c":"i3","l":3,"r":2.36,"R":2.81},{"c":"i3","l":3,"r":2.34,"R":2.82}
],
"levels":[{"v":0.04820976,"l":19},{"v":0.0423736,"l":18},{"v":0.03653744,"l":17},{"v":0.03070128,"l":16},{"v":0.02486512,"l":15},{"v":0.01902896,"l":14},{"v":0.0131928,"l":13},{"v":0.00735664,"l":12},{"v":0.00152048,"l":11},{"v":-0.00431568,"l":10},{"v":-0.01015184,"l":9},{"v":-0.015988,"l":8},{"v":-0.02182416,"l":7},{"v":-0.02766032,"l":6},{"v":-0.03349648,"l":5},{"v":-0.03933264,"l":4},{"v":-0.04516881,"l":3},{"v":-0.05100497,"l":2},{"v":-0.05684113,"l":1},{"v":-0.06267729,"l":0}],
"notes":[{"t":"23766.0331824","r":1.7,"R":6.065},{"t":"Rsmall--Rbig","r":1.7,"R":5.82},{"t":"GAMMA=7.46521233685","r":1.7,"R":5.57}]},
"hconcat":[
{"width":967,"height":625,"layer":[
{"data":{"name":"contours"},"mark":{"type":"line","order":false,"strokeWidth":1,"interpolate":"linear","opacity":0.85},"encoding":{"detail":{"field":"c"},
"x":{"field":"r","type":"quantitative","scale":{"domain":[1.4,3.2],"nice":false,"zero":false},"axis":{"orient":"bottom","title":"r, bohr","values":[1.4,1.6,1.8,2.0,2.2,2.4,2.6,2.8,3.0,3.2],"format":".1f","tickSize":-4,"labelPadding":6,"titleFont":"Liberation Sans","titleFontSize":25,"titleFontWeight":"normal","titleColor":"#000","titleBaseline":"alphabetic","titleX":513,"titleY":47}},
"y":{"field":"R","type":"quantitative","scale":{"domain":[-1,7],"nice":false,"zero":false},"axis":{"orient":"left","title":"R, bohr","values":[-1,0,1,2,3,4,5,6,7],"format":"d","tickSize":-4,"labelPadding":6,"titleFont":"Liberation Sans","titleFontSize":25,"titleFontWeight":"normal","titleColor":"#000","titleAngle":0,"titleAlign":"left","titleBaseline":"alphabetic","titleX":-104,"titleY":315}},
"color":{"field":"l","type":"ordinal","legend":null,"scale":{"domain":[0,1,2,3,4,5,6,7,8,9,10,11,12,13,14,15,16,17,18,19],"range":["#00007f","#0000bc","#0000fa","#0022ff","#0057ff","#008dff","#00c3ff","#0ff8e8","#3affbc","#66ff91","#91ff66","#bcff3a","#e8ff0f","#ffd500","#ffa300","#ff7200","#ff4000","#fa0f00","#bc0000","#7f0000"]}}}},
{"data":{"name":"notes"},"mark":{"type":"text","align":"left","baseline":"middle","font":"DejaVu Sans","fontSize":16.5,"color":"#000"},"encoding":{
"x":{"field":"r","type":"quantitative","scale":{"domain":[1.4,3.2],"nice":false,"zero":false},"axis":{"orient":"top","title":null,"labels":false,"values":[1.4,1.6,1.8,2.0,2.2,2.4,2.6,2.8,3.0,3.2],"tickSize":-4}},
"y":{"field":"R","type":"quantitative","scale":{"domain":[-1,7],"nice":false,"zero":false},"axis":{"orient":"right","title":null,"labels":false,"values":[-1,0,1,2,3,4,5,6,7],"tickSize":-4}},
"text":{"field":"t"}}}
],"resolve":{"axis":{"x":"independent","y":"independent"}}},
{"width":31,"height":625,"data":{"name":"levels"},"mark":{"type":"rule","strokeWidth":1,"opacity":0.8},"encoding":{
"y":{"field":"v","type":"quantitative","scale":{"domain":[-0.06267729,0.04820976],"nice":false,"zero":false},"axis":{"orient":"right","title":null,"values":[0.04820976,0.03653744,0.02486512,0.0131928,0.00152048,-0.01015184,-0.02182416,-0.03349648,-0.04516881,-0.05684113],"format":".8f","tickSize":-3,"labelPadding":5}},
"color":{"field":"l","type":"ordinal","legend":null,"scale":{"domain":[0,1,2,3,4,5,6,7,8,9,10,11,12,13,14,15,16,17,18,19],"range":["#00007f","#0000bc","#0000fa","#0022ff","#0057ff","#008dff","#00c3ff","#0ff8e8","#3affbc","#66ff91","#91ff66","#bcff3a","#e8ff0f","#ffd500","#ffa300","#ff7200","#ff4000","#fa0f00","#bc0000","#7f0000"]}}}}
]}
